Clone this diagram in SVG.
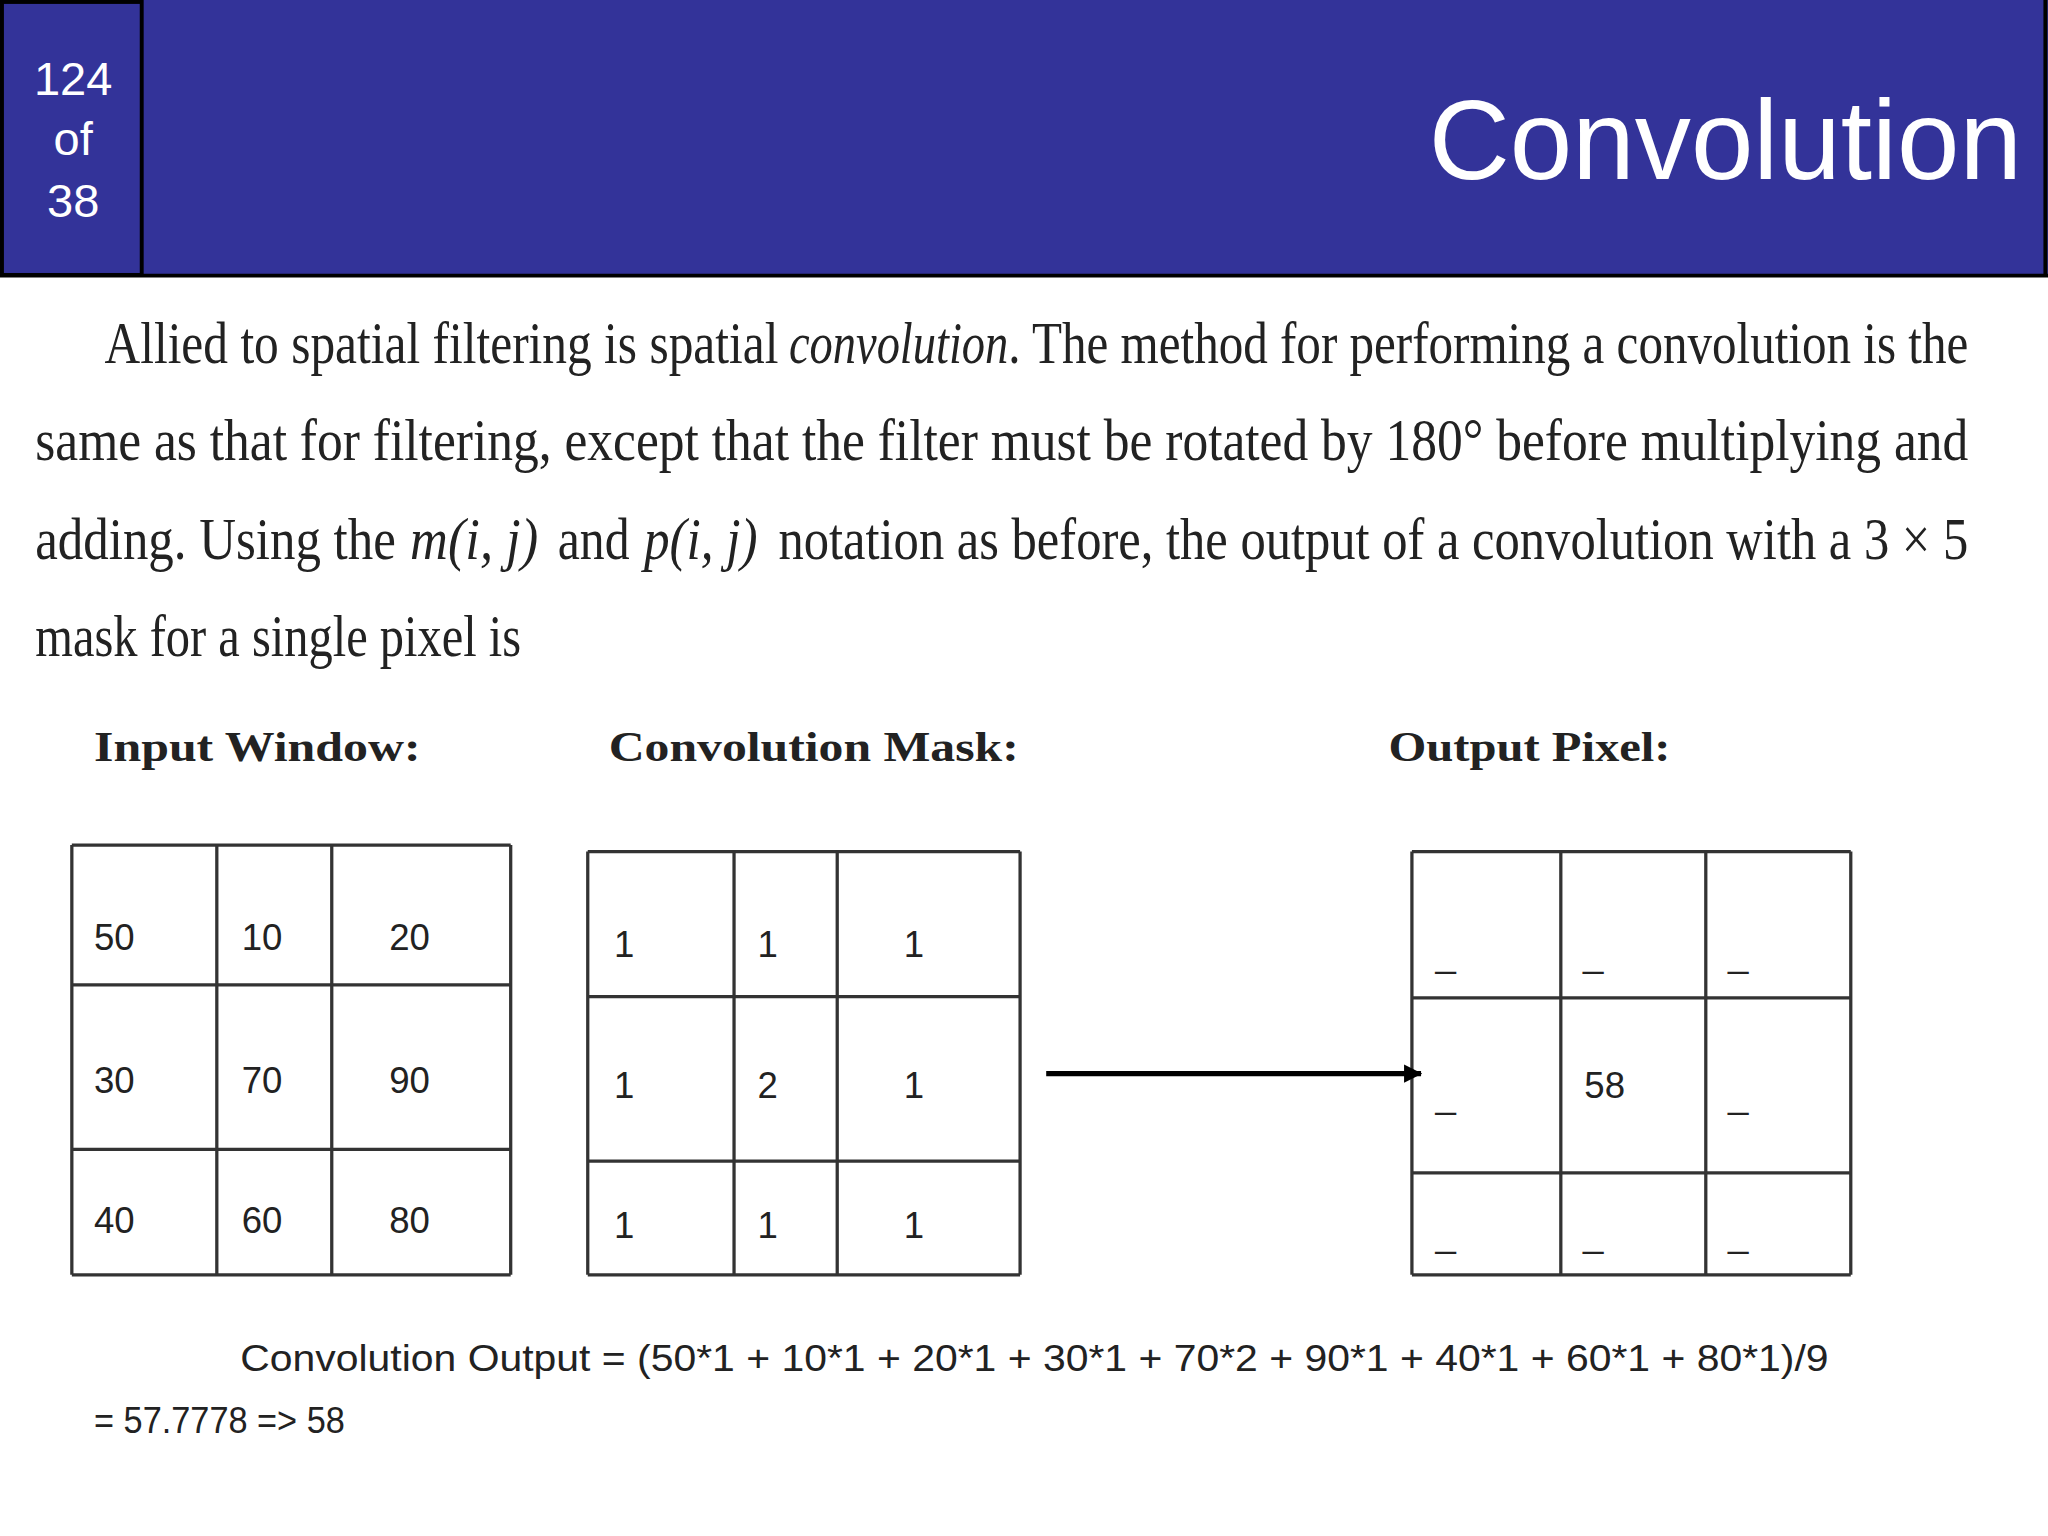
<svg xmlns="http://www.w3.org/2000/svg" width="2048" height="1536" viewBox="0 0 2048 1536">
<style>
.hd{font-family:"Liberation Sans",Arial,sans-serif;fill:#fff}
.p{font-family:"Liberation Serif","Times New Roman",serif;font-size:46px;fill:#222}
.i{font-style:italic}
.lb{font-family:"Liberation Serif","Times New Roman",serif;font-size:33px;font-weight:bold;fill:#222}
.c{font-family:"Liberation Sans",Arial,sans-serif;font-size:28px;fill:#222}
.g line{stroke:#333;stroke-width:2.5}
</style>
<defs><marker id="ah" markerWidth="14" markerHeight="14" refX="13" refY="7" orient="auto" markerUnits="userSpaceOnUse"><path d="M0,0 L14,7 L0,14 z" fill="#000"/></marker></defs>
<rect width="2048" height="1536" fill="#fff"/>
<g transform="scale(1.30612)">
<g id="header">
<rect x="0" y="0" width="1568" height="212" fill="#333399"/>
<rect x="1.5" y="1.5" width="107" height="209" fill="none" stroke="#000" stroke-width="3"/>
<line x1="0" y1="211" x2="1568" y2="211" stroke="#000" stroke-width="3"/>
<line x1="1566" y1="0" x2="1566" y2="212" stroke="#000" stroke-width="3"/>
<text class="hd" x="56" y="73" font-size="36" text-anchor="middle">124</text>
<text class="hd" x="56" y="119" font-size="36" text-anchor="middle">of</text>
<text class="hd" x="56" y="166" font-size="36" text-anchor="middle">38</text>
<text class="hd" x="1548" y="137" font-size="86" text-anchor="end">Convolution</text>
</g>
<g id="paragraph">
<text class="p" x="80" y="278" textLength="516" lengthAdjust="spacingAndGlyphs">Allied to spatial filtering is spatial</text>
<text class="p i" x="604" y="278" textLength="168" lengthAdjust="spacingAndGlyphs">convolution</text>
<text class="p" x="772" y="278" textLength="735" lengthAdjust="spacingAndGlyphs">. The method for performing a convolution is the</text>
<text class="p" x="27" y="352" textLength="1480" lengthAdjust="spacingAndGlyphs">same as that for filtering, except that the filter must be rotated by 180° before multiplying and</text>
<text class="p" x="27" y="428" textLength="276" lengthAdjust="spacingAndGlyphs">adding. Using the</text>
<text class="p i" x="314" y="428" textLength="98" lengthAdjust="spacingAndGlyphs">m(i, j)</text>
<text class="p" x="427" y="428" textLength="55" lengthAdjust="spacingAndGlyphs">and</text>
<text class="p i" x="493" y="428" textLength="87" lengthAdjust="spacingAndGlyphs">p(i, j)</text>
<text class="p" x="596" y="428" textLength="911" lengthAdjust="spacingAndGlyphs">notation as before, the output of a convolution with a 3 × 5</text>
<text class="p" x="27" y="502" textLength="372" lengthAdjust="spacingAndGlyphs">mask for a single pixel is</text>
</g>
<g id="labels">
<text class="lb" x="72" y="583" textLength="250" lengthAdjust="spacingAndGlyphs">Input Window:</text>
<text class="lb" x="466" y="583" textLength="314" lengthAdjust="spacingAndGlyphs">Convolution Mask:</text>
<text class="lb" x="1063" y="583" textLength="216" lengthAdjust="spacingAndGlyphs">Output Pixel:</text>
</g>
<g id="input-window" class="g">
<line x1="55" y1="647" x2="391" y2="647"/><line x1="55" y1="754" x2="391" y2="754"/><line x1="55" y1="880" x2="391" y2="880"/><line x1="55" y1="976" x2="391" y2="976"/>
<line x1="55" y1="647" x2="55" y2="976"/><line x1="166" y1="647" x2="166" y2="976"/><line x1="254" y1="647" x2="254" y2="976"/><line x1="391" y1="647" x2="391" y2="976"/>
<text class="c" x="72" y="727">50</text><text class="c" x="185" y="727">10</text><text class="c" x="298" y="727">20</text>
<text class="c" x="72" y="837">30</text><text class="c" x="185" y="837">70</text><text class="c" x="298" y="837">90</text>
<text class="c" x="72" y="944">40</text><text class="c" x="185" y="944">60</text><text class="c" x="298" y="944">80</text>
</g>
<g id="mask" class="g">
<line x1="450" y1="652" x2="781" y2="652"/><line x1="450" y1="763" x2="781" y2="763"/><line x1="450" y1="889" x2="781" y2="889"/><line x1="450" y1="976" x2="781" y2="976"/>
<line x1="450" y1="652" x2="450" y2="976"/><line x1="562" y1="652" x2="562" y2="976"/><line x1="641" y1="652" x2="641" y2="976"/><line x1="781" y1="652" x2="781" y2="976"/>
<text class="c" x="470" y="733">1</text><text class="c" x="580" y="733">1</text><text class="c" x="692" y="733">1</text>
<text class="c" x="470" y="841">1</text><text class="c" x="580" y="841">2</text><text class="c" x="692" y="841">1</text>
<text class="c" x="470" y="948">1</text><text class="c" x="580" y="948">1</text><text class="c" x="692" y="948">1</text>
</g>
<g id="output" class="g">
<line x1="1081" y1="652" x2="1417" y2="652"/><line x1="1081" y1="764" x2="1417" y2="764"/><line x1="1081" y1="898" x2="1417" y2="898"/><line x1="1081" y1="976" x2="1417" y2="976"/>
<line x1="1081" y1="652" x2="1081" y2="976"/><line x1="1195" y1="652" x2="1195" y2="976"/><line x1="1306" y1="652" x2="1306" y2="976"/><line x1="1417" y1="652" x2="1417" y2="976"/>
<text class="c" x="1099" y="740">_</text><text class="c" x="1212" y="740">_</text><text class="c" x="1323" y="740">_</text>
<text class="c" x="1099" y="848">_</text><text class="c" x="1213" y="841">58</text><text class="c" x="1323" y="848">_</text>
<text class="c" x="1099" y="955">_</text><text class="c" x="1212" y="955">_</text><text class="c" x="1323" y="955">_</text>
</g>
<g id="connectors">
<line x1="801" y1="822" x2="1088" y2="822" stroke="#000" stroke-width="4" marker-end="url(#ah)"/>
</g>
<g id="formula">
<text class="c" x="184" y="1050" font-size="26" textLength="1216" lengthAdjust="spacingAndGlyphs">Convolution Output = (50*1 + 10*1 + 20*1 + 30*1 + 70*2 + 90*1 + 40*1 + 60*1 + 80*1)/9</text>
<text class="c" x="72" y="1097" font-size="26" textLength="192" lengthAdjust="spacingAndGlyphs">= 57.7778 =&gt; 58</text>
</g>
</g>
</svg>
